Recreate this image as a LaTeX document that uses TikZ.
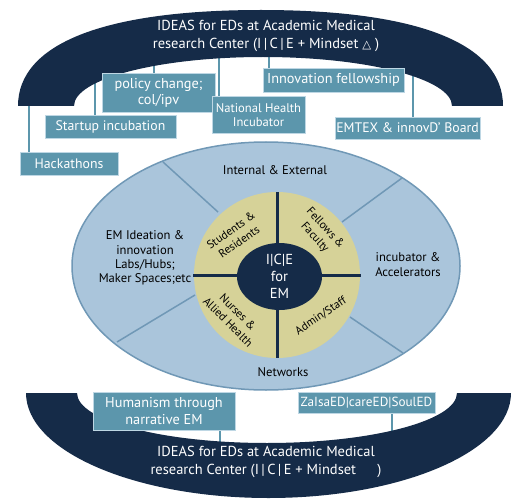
\documentclass[tikz,border=0pt]{standalone}
\usepackage{fontspec}
\setmainfont{PT Sans}
\newfontfamily\symfont{DejaVu Sans}
\definecolor{navy}{RGB}{21,43,72}
\definecolor{boxc}{RGB}{92,150,172}
\definecolor{boxedge}{RGB}{190,215,228}
\definecolor{ellc}{RGB}{170,197,219}
\definecolor{ellline}{RGB}{112,152,182}
\definecolor{khaki}{RGB}{214,210,152}
\tikzset{
  lbox/.style={fill=boxc, draw=boxedge, line width=0.8pt, text=white, inner sep=0pt,
    align=center, font=\fontsize{13.8}{15.5}\selectfont},
  conn/.style={draw=boxc, line width=2pt},
  divline/.style={draw=ellline, line width=1.5pt},
  crossline/.style={draw=navy, line width=3pt},
  archtext/.style={text=white, align=center, font=\fontsize{14.5}{18}\selectfont},
  elltext/.style={text=black, align=center, font=\fontsize{12.6}{14.3}\selectfont},
  ytext/.style={text=black, align=center, font=\fontsize{11.5}{14}\selectfont},
}
\begin{document}
\begin{tikzpicture}[x=1pt,y=-1pt]
\useasboundingbox (0,0) rectangle (530,500);
\fill[white] (0,0) rectangle (530,500);

% connector anchor coordinates inside the arches
\coordinate (hackT) at (29,100);
\coordinate (startT) at (95,80);
\coordinate (polT) at (154,60);
\coordinate (natT) at (219,52);
\coordinate (innT) at (269,52);
\coordinate (emtT) at (413,70);
\coordinate (humB) at (220,448);
\coordinate (zalB) at (392,440);

% box outlines (named, used as connector ends; text added on top later)
\path
  node[lbox, minimum width=98pt, minimum height=23pt] (hack) at (69,163.5) {}
  node[lbox, minimum width=131pt, minimum height=23pt] (start) at (110.5,126.5) {}
  node[lbox, minimum width=113pt, minimum height=39pt] (pol) at (158.5,92.5) {}
  node[lbox, minimum width=93pt, minimum height=37pt] (nat) at (258.5,115) {}
  node[lbox, minimum width=141pt, minimum height=24pt] (inn) at (333.5,80) {}
  node[lbox, minimum width=145pt, minimum height=22pt] (emt) at (407.5,128) {}
  node[lbox, minimum width=142pt, minimum height=38pt] (hum) at (164,411) {}
  node[lbox, minimum width=137pt, minimum height=21pt] (zal) at (366.5,402.5) {};

% connectors
\draw[conn] (hackT) -- (hackT |- hack.north);
\draw[conn] (startT) -- (startT |- start.north);
\draw[conn] (polT) -- (polT |- pol.north);
\draw[conn] (natT) -- (natT |- nat.north);
\draw[conn] (innT) -- (innT |- inn.north);
\draw[conn] (emtT) -- (emtT |- emt.north);
\draw[conn] (humB) -- (humB |- hum.south);
\draw[conn] (zalB) -- (zalB |- zal.south);

% top arch
\fill[navy] (18,106) .. controls (18,44) and (103,10) .. (261,10)
  .. controls (419,10) and (503,44) .. (503,106) -- (452,106)
  .. controls (452,78.9) and (367.4,57) .. (263,57)
  .. controls (158.6,57) and (74,78.9) .. (74,106) -- cycle;

% bottom arch
\fill[navy] (26,393) -- (77,393)
  .. controls (77,420.6) and (162.1,443) .. (267,443)
  .. controls (371.9,443) and (457,420.6) .. (457,393) -- (511,393)
  .. controls (511,451) and (402.4,498) .. (268.5,498)
  .. controls (134.6,498) and (26,451) .. (26,393) -- cycle;

% arch texts
\node[archtext] (toptext) at (266,36) {IDEAS for EDs at Academic Medical\\research Center (I\,|\,C\,|\,E + Mindset {\symfont\fontsize{11.5}{11.5}\selectfont △} )};
\node[archtext] (bottext) at (266,461.5) {IDEAS for EDs at Academic Medical\\research Center (I\,|\,C\,|\,E + Mindset \hspace{1.2em})};

% boxes with text
\node[lbox, minimum width=98pt, minimum height=23pt] at (hack) {Hackathons};
\node[lbox, minimum width=131pt, minimum height=23pt] at (start) {Startup incubation};
\node[lbox, minimum width=113pt, minimum height=39pt, font=\fontsize{14.3}{16}\selectfont] at (pol) {policy change;\\col/ipv};
\node[lbox, minimum width=93pt, minimum height=37pt, font=\fontsize{12.6}{14}\selectfont] at (nat) {National Health\\Incubator};
\node[lbox, minimum width=141pt, minimum height=24pt, font=\fontsize{14.3}{16}\selectfont] at (inn) {Innovation fellowship};
\node[lbox, minimum width=145pt, minimum height=22pt] at (emt) {EMTEX \& innovD’ Board};
\node[lbox, minimum width=142pt, minimum height=38pt, font=\fontsize{14.3}{16.5}\selectfont] at (hum) {Humanism through\\narrative EM};
\node[lbox, minimum width=137pt, minimum height=21pt, font=\fontsize{13.2}{15}\selectfont] at (zal) {ZaIsaED|careED|SoulED};

% main ellipse
\draw[fill=ellc, draw=ellline, line width=1.5pt] (266,266) ellipse [x radius=194, y radius=124];
\draw[divline] (218,212) -- (163,162);
\draw[divline] (342,222) -- (402,178);
\draw[divline] (195,295) -- (117,342);
\draw[divline] (350,317) -- (403,353);

% khaki circle and cross
\fill[khaki] (277,275) circle [radius=83];
\draw[crossline] (277,192) -- (277,358);
\draw[crossline] (193,275) -- (361,275);
\fill[navy] (279.5,276.5) ellipse [x radius=42.5, y radius=33.5];

% texts in ellipse
\node[elltext] (ext) at (275,170) {Internal \& External};
\node[elltext] (labs) at (145,258) {EM Ideation \&\\innovation\\Labs/Hubs;\\Maker Spaces;etc};
\node[elltext] (accel) at (408,264.5) {incubator \&\\Accelerators};
\node[elltext] (netw) at (283,372) {Networks};

\node[ytext, rotate=35] (stud) at (235,236) {Students \&\\Residents};
\node[ytext, rotate=-48] (fell) at (320,233) {Fellows \&\\Faculty};
\node[ytext, rotate=-45] (nurs) at (233,317) {Nurses \&\\Allied Health};
\node[ytext, rotate=34] (admin) at (321,316) {Admin/Staff};

\node[text=white, align=center, font=\fontsize{14.5}{17}\selectfont] (ice) at (279.5,276) {I|C|E\\for\\EM};
\end{tikzpicture}
\end{document}
